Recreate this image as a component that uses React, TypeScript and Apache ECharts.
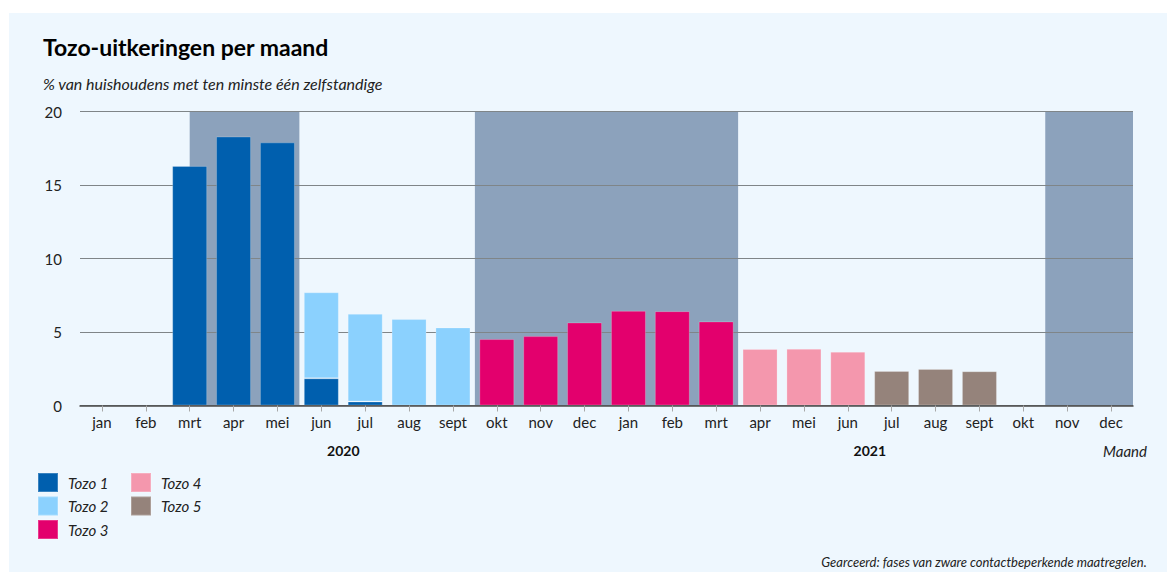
import React, { useEffect, useRef } from "react";
import * as echarts from "echarts";

const months = ["jan","feb","mrt","apr","mei","jun","jul","aug","sept","okt","nov","dec","jan","feb","mrt","apr","mei","jun","jul","aug","sept","okt","nov","dec"];
const years = ["2020", "2021"];
const yTicks = [0, 5, 10, 15, 20];

const tozo1 = [null, null, 16.3, 18.3, 17.9, 1.85, 0.27, null, null, null, null, null, null, null, null, null, null, null, null, null, null, null, null, null];
const tozo2 = [null, null, null, null, null, 5.85, 5.97, 5.88, 5.31, null, null, null, null, null, null, null, null, null, null, null, null, null, null, null];
const tozo3 = [null, null, null, null, null, null, null, null, null, 4.52, 4.72, 5.65, 6.44, 6.42, 5.72, null, null, null, null, null, null, null, null, null];
const tozo4 = [null, null, null, null, null, null, null, null, null, null, null, null, null, null, null, 3.84, 3.86, 3.66, null, null, null, null, null, null];
const tozo5 = [null, null, null, null, null, null, null, null, null, null, null, null, null, null, null, null, null, null, 2.35, 2.49, 2.33, null, null, null];

// shaded phases (in category-index units, -0.5 = left edge of jan 2020)
const phases = [
  [2, 4.5],
  [8.5, 14.5],
  [21.5, 23.5],
];

const seriesNames = ["Tozo 1", "Tozo 2", "Tozo 3", "Tozo 4", "Tozo 5"];
const seriesData = [tozo1, tozo2, tozo3, tozo4, tozo5];
const colors = ["#005fae", "#8bd1fe", "#e3006d", "#f497ad", "#95837b"];

const FONT = "Lato";

export default function App() {
  const ref = useRef<HTMLDivElement>(null);
  useEffect(() => {
    if (!ref.current) return;
    const chart = echarts.init(ref.current, null, { renderer: "svg" });
    const bars = seriesNames.map((name, i) => ({
      name,
      type: "bar",
      stack: "total",
      data: seriesData[i],
      barWidth: 35,
      xAxisIndex: 0,
      yAxisIndex: 0,
      z: 2,
      itemStyle: { color: colors[i], borderColor: "rgba(255,255,255,0.22)", borderWidth: 1 },
    }));
    const legendBase = {
      orient: "vertical",
      top: 472,
      padding: 0,
      itemWidth: 20,
      itemHeight: 19,
      itemGap: 2.5,
      icon: "rect",
      textStyle: { fontFamily: FONT, fontSize: 15, fontStyle: "italic", color: "#222", lineHeight: 18, padding: [0, 0, 0, 5] },
      selectedMode: false,
    };
    chart.setOption({
      animation: false,
      backgroundColor: "#ffffff",
      textStyle: { fontFamily: FONT },
      title: [
        {
          text: "Tozo-uitkeringen per maand",
          left: 43,
          top: 35,
          padding: 0,
          textStyle: { fontFamily: FONT, fontSize: 23, fontWeight: "bold", color: "#000" },
        },
        {
          text: "% van huishoudens met ten minste één zelfstandige",
          left: 43,
          top: 75,
          padding: 0,
          textStyle: { fontFamily: FONT, fontSize: 16, fontStyle: "italic", fontWeight: "normal", color: "#222" },
        },
      ],
      grid: { left: 80, right: 34, top: 111.5, bottom: 166.5, containLabel: false },
      legend: [
        { ...legendBase, data: seriesNames.slice(0, 3), left: 37 },
        { ...legendBase, data: seriesNames.slice(3), left: 130 },
      ],
      xAxis: [
        {
          type: "category",
          data: months,
          z: 3,
          axisLine: { show: true, lineStyle: { color: "#4a4a4a", width: 1.5 } },
          axisTick: { show: true, alignWithLabel: true, length: 6, lineStyle: { color: "#a8a8a8", width: 1 } },
          axisLabel: { fontFamily: FONT, fontSize: 15, color: "#222", margin: 9, interval: 0 },
          splitLine: { show: false },
        },
        {
          type: "value",
          min: -0.5,
          max: 23.5,
          show: false,
          splitLine: { show: false },
        },
        {
          type: "category",
          data: years,
          position: "bottom",
          offset: 45,
          axisLine: { show: false },
          axisTick: { show: false },
          axisLabel: { fontFamily: FONT, fontSize: 14, fontWeight: "bold", color: "#111", margin: 0, verticalAlign: "middle" },
          name: "Maand",
          nameLocation: "end",
          nameGap: 14,
          nameTextStyle: { fontFamily: FONT, fontSize: 15, fontStyle: "italic", color: "#222", align: "right", verticalAlign: "middle" },
        },
      ],
      yAxis: {
        type: "value",
        min: yTicks[0],
        max: yTicks[yTicks.length - 1],
        interval: 5,
        z: 1,
        axisLine: { show: false },
        axisTick: { show: false },
        axisLabel: { fontFamily: FONT, fontSize: 15, color: "#222", margin: 18 },
        splitLine: { show: true, lineStyle: { color: "#7f8588", width: 1 } },
      },
      graphic: [
        {
          type: "rect",
          left: 9,
          top: 13,
          z: -10,
          silent: true,
          shape: { width: 1158, height: 559 },
          style: { fill: "#eef7fe" },
        },
        {
          type: "text",
          right: 20,
          top: 555,
          style: {
            text: "Gearceerd: fases van zware contactbeperkende maatregelen.",
            font: "italic 13px Lato",
            fill: "#222",
          },
        },
      ],
      series: [
        {
          name: "fases",
          type: "line",
          xAxisIndex: 1,
          yAxisIndex: 0,
          data: [],
          markArea: {
            z: 0.5,
            silent: true,
            label: { show: false },
            itemStyle: { color: "#8ca2bc", opacity: 1 },
            data: phases.map(([a, b]) => [{ xAxis: a }, { xAxis: b }]),
          },
        },
        ...bars,
      ],
    });
    return () => chart.dispose();
  }, []);
  return (
    <div
      ref={ref}
      style={{ position: "fixed", left: 0, top: 0, width: 1167, height: 572 }}
    />
  );
}
